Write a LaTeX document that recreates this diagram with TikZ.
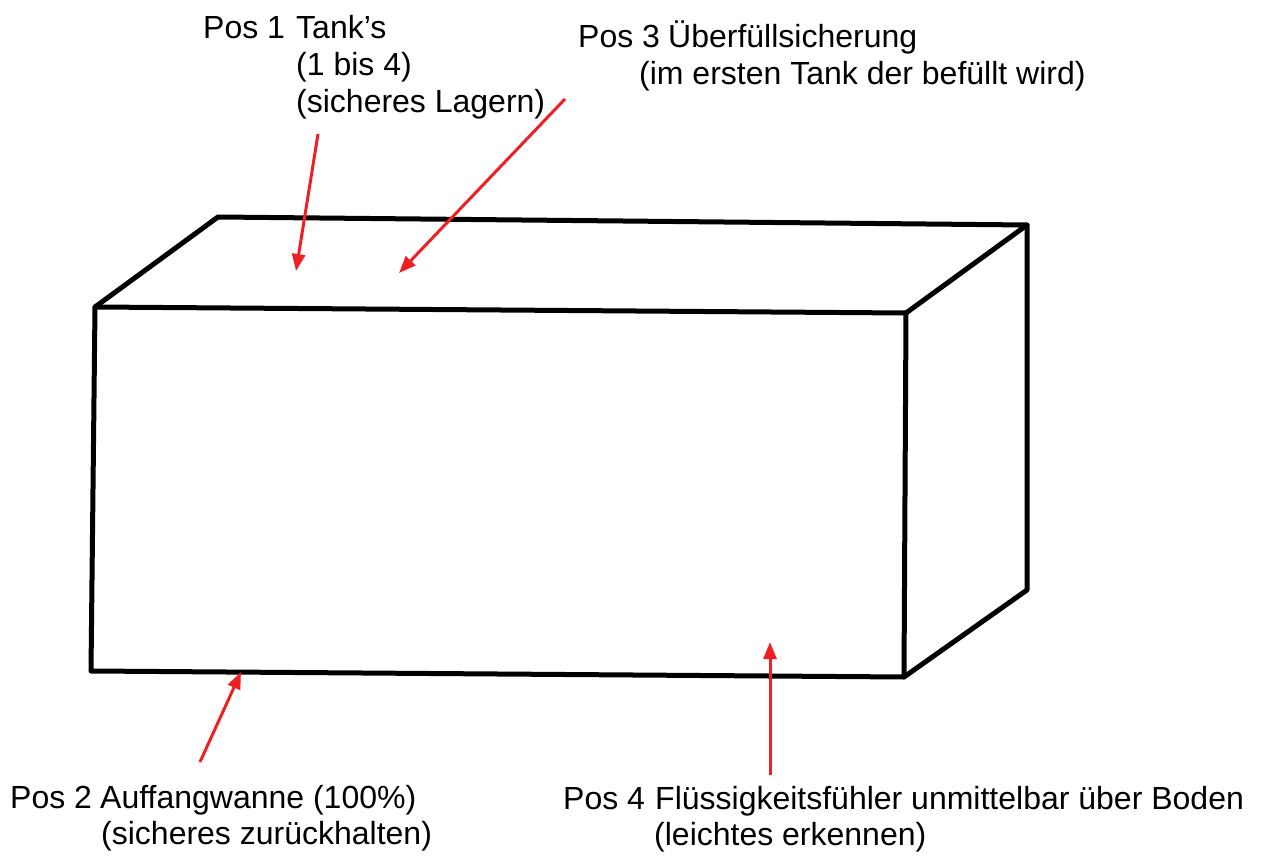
\documentclass[tikz,border=0pt]{standalone}
\usepackage{fontspec}
\setmainfont{Liberation Sans}
\usetikzlibrary{arrows.meta}
\definecolor{markred}{RGB}{238,32,36}
\tikzset{
  edge/.style={line width=5pt, line join=round, line cap=round},
  pointer/.style={markred, line width=3pt, -{Triangle[length=17pt,width=13pt]}},
  label/.style={anchor=base west, inner sep=0pt, font=\fontsize{32}{37}\selectfont}
}
\begin{document}
\begin{tikzpicture}[x=1pt, y=-1pt]
  \useasboundingbox (0,0) rectangle (1267,858);

  % corners of the box
  \coordinate (ftl) at (95,307);
  \coordinate (ftr) at (906,313);
  \coordinate (fbr) at (904,677);
  \coordinate (fbl) at (91,671);
  \coordinate (btl) at (218,217);
  \coordinate (btr) at (1027,225);
  \coordinate (bbr) at (1027,590);

  % box outline
  \draw[edge] (ftl) -- (ftr) -- (fbr) -- (fbl) -- cycle;
  \draw[edge] (ftl) -- (btl) -- (btr) -- (ftr);
  \draw[edge] (btr) -- (bbr) -- (fbr);

  % Pos 1
  \node[label] (p1) at (203,39) {Pos 1};
  \node[label] (p1a) at (296,39) {Tank’s};
  \node[label] (p1b) at (296,76) {(1 bis 4)};
  \node[label] (p1c) at (296,113) {(sicheres Lagern)};

  % Pos 3
  \node[label] (p3) at (578,48) {Pos 3};
  \node[label] (p3a) at (668,48) {Überfüllsicherung};
  \node[label] (p3b) at (639,85) {(im ersten Tank der befüllt wird)};

  % Pos 2
  \node[label] (p2) at (10,808) {Pos 2};
  \node[label] (p2a) at (100,808) {Auffangwanne (100\%)};
  \node[label] (p2b) at (101,844) {(sicheres zurückhalten)};

  % Pos 4
  \node[label] (p4) at (563,809) {Pos 4};
  \node[label] (p4a) at (655,809) {Flüssigkeitsfühler unmittelbar über Boden};
  \node[label] (p4b) at (654,845) {(leichtes erkennen)};

  % pointer ends
  \coordinate (a1s) at (318,134);
  \coordinate (a1e) at (296,271);
  \coordinate (a3s) at (565,99);
  \coordinate (a3e) at (399,273);
  \coordinate (a2s) at (200,762);
  \coordinate (a2e) at (241,672);
  \coordinate (a4s) at (770,775);
  \coordinate (a4e) at (770,642);

  \draw[pointer] (a1s) -- (a1e);
  \draw[pointer] (a3s) -- (a3e);
  \draw[pointer] (a2s) -- (a2e);
  \draw[pointer] (a4s) -- (a4e);
\end{tikzpicture}
\end{document}
